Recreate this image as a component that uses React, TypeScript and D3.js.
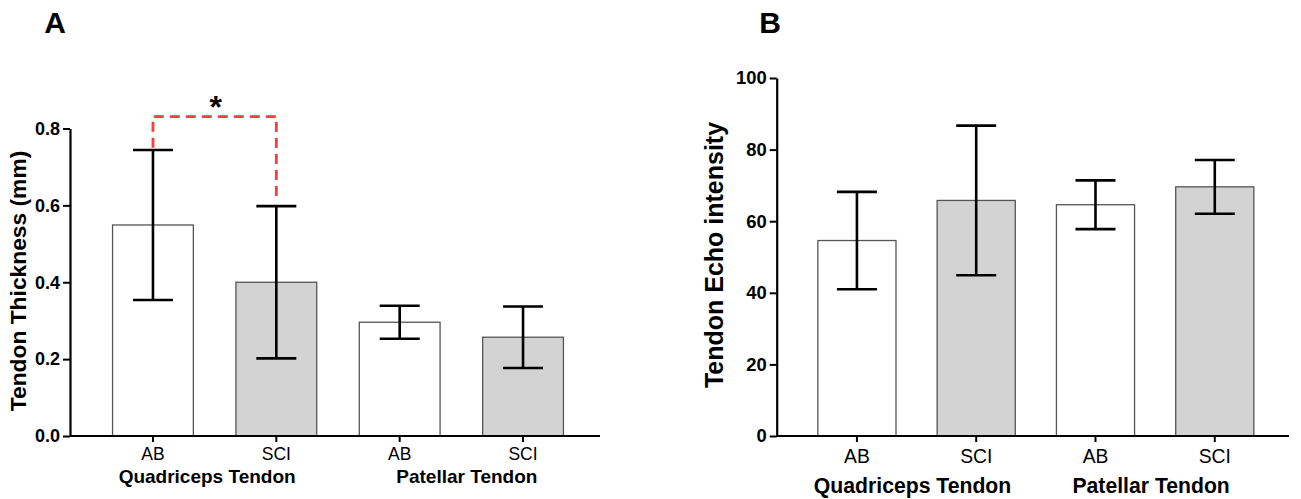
import React, { useEffect, useRef } from 'react';
import * as d3 from 'd3';

const categories = ['AB', 'SCI', 'AB', 'SCI'];
const groups = ['Quadriceps Tendon', 'Patellar Tendon'];

const thicknessMean = [0.549, 0.4, 0.296, 0.257];
const thicknessErr = [0.195, 0.198, 0.043, 0.08];
const thicknessTicks = [0, 0.2, 0.4, 0.6, 0.8];

const echoMean = [54.6, 65.8, 64.6, 69.6];
const echoErr = [13.6, 20.9, 6.8, 7.5];
const echoTicks = [0, 20, 40, 60, 80, 100];

const FONT = 'Liberation Sans, Arial, sans-serif';

const Panel = (props) => {
  const { means, errs, ticks, yMax, fmt, x0, x1, top, bottom, title, letter, letterX,
    tickFont, catFont, catPad, groupFont, groupY, groupShift, titleFont, titleX, titleY, sig } = props;
  const yRef = useRef(null);
  const xRef = useRef(null);

  const idx = categories.map((d, i) => String(i));
  const xScale = d3.scaleBand().domain(idx).range([x0, x1]).padding(0.345);
  const yScale = d3.scaleLinear().domain([0, yMax]).range([bottom, top]);
  const bw = xScale.bandwidth();
  const capW = 40;

  useEffect(() => {
    const gy = d3.select(yRef.current);
    gy.selectAll('*').remove();
    gy.call(d3.axisLeft(yScale).tickValues(ticks).tickFormat(fmt).tickSize(7).tickSizeOuter(0).tickPadding(3));
    gy.select('.domain').attr('stroke-width', 2.2);
    gy.selectAll('.tick line').attr('stroke-width', 2);
    gy.selectAll('.tick text').attr('font-size', tickFont).attr('font-weight', 'bold')
      .attr('font-family', FONT).attr('fill', '#000');

    const gx = d3.select(xRef.current);
    gx.selectAll('*').remove();
    gx.call(d3.axisBottom(xScale).tickFormat((d) => categories[+d]).tickSize(6).tickSizeOuter(0).tickPadding(catPad));
    gx.select('.domain').attr('stroke-width', 2.2).attr('d', `M${x0},0H${x1 - 6}`);
    gx.selectAll('.tick line').attr('stroke-width', 2);
    gx.selectAll('.tick text').attr('font-size', catFont).attr('font-family', FONT).attr('fill', '#000');
  }, []);

  const cx = (i) => xScale(String(i)) + bw / 2;

  return (
    <g>
      <text x={letterX} y={33} fontSize={30} fontWeight="bold" fontFamily={FONT} textAnchor="middle">{letter}</text>
      <text transform={`translate(${titleX},${titleY}) rotate(-90)`} fontSize={titleFont}
        fontWeight="bold" fontFamily={FONT} textAnchor="middle" dominantBaseline="middle">{title}</text>
      {means.map((m, i) => (
        <rect key={'b' + i} x={xScale(String(i))} y={yScale(m)} width={bw} height={bottom - yScale(m)}
          fill={i % 2 ? '#d3d3d3' : '#ffffff'} stroke="#555" strokeWidth={1.3} />
      ))}
      {means.map((m, i) => (
        <g key={'e' + i} stroke="#000" strokeWidth={2.6}>
          <line x1={cx(i)} x2={cx(i)} y1={yScale(m + errs[i])} y2={yScale(m - errs[i])} />
          <line x1={cx(i) - capW / 2} x2={cx(i) + capW / 2} y1={yScale(m + errs[i])} y2={yScale(m + errs[i])} />
          <line x1={cx(i) - capW / 2} x2={cx(i) + capW / 2} y1={yScale(m - errs[i])} y2={yScale(m - errs[i])} />
        </g>
      ))}
      <g ref={yRef} transform={`translate(${x0},0)`} />
      <g ref={xRef} transform={`translate(0,${bottom})`} />
      {groups.map((g, k) => (
        <text key={g} x={(cx(2 * k) + cx(2 * k + 1)) / 2 + groupShift[k]} y={groupY} fontSize={groupFont}
          fontWeight="bold" fontFamily={FONT} textAnchor="middle">{g}</text>
      ))}
      {sig && (
        <g>
          <path d={`M${cx(0)},${yScale(sig.left)}V${yScale(sig.level)}H${cx(1)}V${yScale(sig.right)}`}
            fill="none" stroke="#ff3b3b" strokeWidth={2.8} strokeDasharray="10,6" />
          <text x={(cx(0) + cx(1)) / 2 + 1} y={yScale(sig.level) + 1} fontSize={32} fontWeight="bold"
            fontFamily={FONT} textAnchor="middle">*</text>
        </g>
      )}
    </g>
  );
};

export default function App() {
  return (
    <svg width={1301} height={499} style={{ position: 'absolute', left: 0, top: 0, background: '#fff' }}>
      <Panel means={thicknessMean} errs={thicknessErr} ticks={thicknessTicks} yMax={0.8}
        fmt={d3.format('.1f')} x0={70} x1={606} top={128.5} bottom={436}
        title="Tendon Thickness (mm)" letter="A" letterX={55} tickFont={18} catFont={17.5} catPad={6}
        groupFont={19} groupY={483} groupShift={[-7.5, 5.5]} titleFont={22.8} titleX={20} titleY={281}
        sig={{ left: 0.75, level: 0.831, right: 0.62 }} />
      <Panel means={echoMean} errs={echoErr} ticks={echoTicks} yMax={100}
        fmt={d3.format('d')} x0={776.7} x1={1295} top={78} bottom={436}
        title="Tendon Echo intensity" letter="B" letterX={770} tickFont={18.4} catFont={19.3} catPad={7}
        groupFont={21.2} groupY={492.5} groupShift={[-4, -4]} titleFont={25} titleX={716} titleY={255} />
    </svg>
  );
}
